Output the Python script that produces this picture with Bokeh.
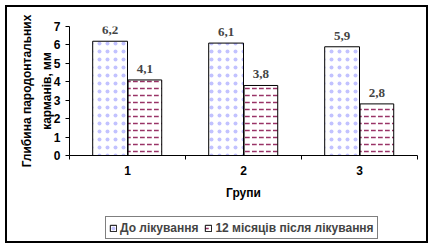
from bokeh.plotting import figure
from bokeh.layouts import column
from bokeh.models import ColumnDataSource, FixedTicker, LabelSet, Legend, LegendItem
from bokeh.transform import dodge
from bokeh.embed import file_html
from bokeh.resources import INLINE

groups = [1, 2, 3]
group_labels = ["1", "2", "3"]
before = [6.2, 6.1, 5.9]
after = [4.1, 3.8, 2.8]
before_txt = ["6,2", "6,1", "5,9"]
after_txt = ["4,1", "3,8", "2,8"]
series_names = ["До лікування", "12 місяців після лікування"]

src = ColumnDataSource(dict(x=groups, before=before, after=after,
                            btxt=before_txt, atxt=after_txt))

FONT = "Liberation Sans"
STYLE1 = dict(fill_color="white", line_color="black", line_width=1,
              hatch_pattern="dot", hatch_color="#9999ff", hatch_scale=8, hatch_weight=0.4,
              hatch_alpha=0.6)
STYLE2 = dict(fill_color="white", line_color="black", line_width=1,
              hatch_pattern="horizontal_dash", hatch_color="#993366", hatch_scale=7, hatch_weight=1.5)

p = figure(width=419, height=195, output_backend="svg", toolbar_location=None,
           x_range=(0.5, 3.5), y_range=(0, 7),
           min_border_left=62, min_border_right=9, min_border_top=19, min_border_bottom=46)
p.outline_line_color = None
p.xgrid.grid_line_color = None
p.ygrid.grid_line_color = None
p.background_fill_color = "white"

p.vbar(x=dodge("x", -0.15, range=p.x_range), top="before", width=0.3, source=src, **STYLE1)
p.vbar(x=dodge("x", 0.15, range=p.x_range), top="after", width=0.29, source=src, **STYLE2)

for col, txt, off in [("before", "btxt", -0.15), ("after", "atxt", 0.15)]:
    ls = LabelSet(x=dodge("x", off, range=p.x_range), y=col, text=txt, source=src,
                  text_align="center", text_baseline="bottom", y_offset=7,
                  text_font=FONT, text_font_style="bold", text_font_size="13px")
    p.add_layout(ls)

xt = FixedTicker(ticks=groups, minor_ticks=[0.5, 1.5, 2.5, 3.5])
p.xaxis.ticker = xt
p.xaxis.major_label_overrides = {g: l for g, l in zip(groups, group_labels)}
p.xaxis.major_tick_line_color = None
p.xaxis.major_tick_in = 0
p.xaxis.major_tick_out = 4
p.xaxis.minor_tick_in = 0
p.xaxis.minor_tick_out = 4
p.xaxis.minor_tick_line_color = "black"
p.xaxis.axis_label = "Групи"
p.yaxis.ticker = FixedTicker(ticks=[0, 1, 2, 3, 4, 5, 6, 7])
p.yaxis.minor_tick_line_color = None
p.yaxis.major_tick_in = 0
p.yaxis.major_tick_out = 4
p.yaxis.axis_label = "Глибина пародонтальних\nкарманів, мм"
p.yaxis.axis_label_text_line_height = 1.4

for ax in (p.xaxis[0], p.yaxis[0]):
    ax.axis_line_color = "black"
    ax.major_label_text_font = FONT
    ax.major_label_text_font_style = "bold"
    ax.major_label_text_font_size = "12px"
    ax.major_label_text_color = "black"
    ax.axis_label_text_font = FONT
    ax.axis_label_text_font_style = "bold"
    ax.axis_label_text_font_size = "12px"
    ax.axis_label_text_color = "black"
p.xaxis.major_label_standoff = 6
p.xaxis.axis_label_standoff = 8
p.yaxis.major_label_standoff = 5
p.yaxis.axis_label_standoff = -3

# legend strip: same series, drawn outside its visible range, only the legend shows
p2 = figure(width=419, height=39, output_backend="svg", toolbar_location=None,
            x_range=(0.5, 3.5), y_range=(100, 101), x_axis_type=None, y_axis_type=None,
            min_border=0)
p2.outline_line_color = None
p2.xgrid.grid_line_color = None
p2.ygrid.grid_line_color = None
l1 = p2.vbar(x="x", top="before", width=0.3, source=src, **STYLE1)
l2 = p2.vbar(x="x", top="after", width=0.3, source=src, **STYLE2)

legend = Legend(items=[LegendItem(label=series_names[0], renderers=[l1]),
                       LegendItem(label=series_names[1], renderers=[l2])],
                orientation="horizontal", location=(36, 2),
                label_text_font=FONT, label_text_font_style="bold", label_text_font_size="12px",
                glyph_width=8, glyph_height=8, label_standoff=3, spacing=6,
                padding=3, margin=0, border_line_color="black", border_line_width=1,
                label_height=15, background_fill_alpha=1)
p2.add_layout(legend, "center")

layout = column(p, p2, spacing=0,
                styles={"border": "2px solid black", "margin-left": "5px", "margin-top": "5px"})

open("out.html", "w").write(file_html(layout, INLINE))
